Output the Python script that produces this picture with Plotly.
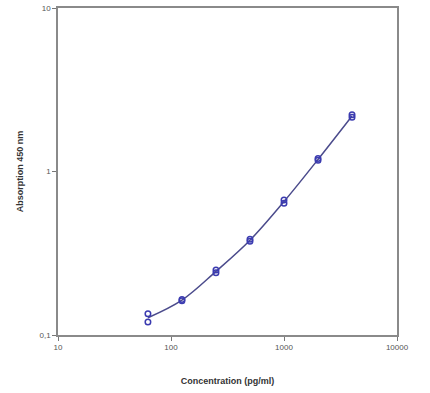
import plotly.graph_objects as go

conc = [62.5, 125, 250, 500, 1000, 2000, 4000]
rep1 = [0.135, 0.165, 0.250, 0.385, 0.670, 1.20, 2.22]
rep2 = [0.120, 0.162, 0.240, 0.375, 0.640, 1.17, 2.15]
mean = [(a + b) / 2 for a, b in zip(rep1, rep2)]

x_ticks = [10, 100, 1000, 10000]
x_ticktext = ["10", "100", "1000", "10000"]
y_ticks = [0.1, 1, 10]
y_ticktext = ["0,1", "1", "10"]

line_col = "#4b4b8c"
mark_col = "#3b3bb0"

fig = go.Figure()
fig.add_trace(go.Scatter(x=conc, y=mean, mode="lines",
                         line=dict(color=line_col, width=1.5, shape="spline"),
                         showlegend=False, hoverinfo="skip"))
fig.add_trace(go.Scatter(x=conc + conc, y=rep1 + rep2, mode="markers",
                         marker=dict(symbol="circle-open", size=5.5, color=mark_col,
                                     line=dict(width=1.5, color=mark_col)),
                         showlegend=False))

axis_common = dict(type="log", showgrid=False, zeroline=False, showline=True,
                   linecolor="#8a8a8a", linewidth=1.5, mirror=True,
                   ticks="outside", ticklen=4, tickcolor="#777", tickwidth=1,
                   tickfont=dict(family="Liberation Sans, Arial", size=8, color="#555"))

fig.update_xaxes(**axis_common, range=[1, 4], tickvals=x_ticks, ticktext=x_ticktext,
                 title=dict(text="<b>Concentration (pg/ml)</b>", standoff=26,
                            font=dict(family="Liberation Sans, Arial", size=9, color="#333")))
fig.update_yaxes(**axis_common, range=[-1, 1], tickvals=y_ticks, ticktext=y_ticktext,
                 title=dict(text="<b>Absorption 450 nm</b>", standoff=14,
                            font=dict(family="Liberation Sans, Arial", size=9, color="#333")))

fig.update_layout(width=430, height=393, margin=dict(l=58, r=33, t=4, b=58),
                  paper_bgcolor="white", plot_bgcolor="white")

fig.write_html("out.html")
